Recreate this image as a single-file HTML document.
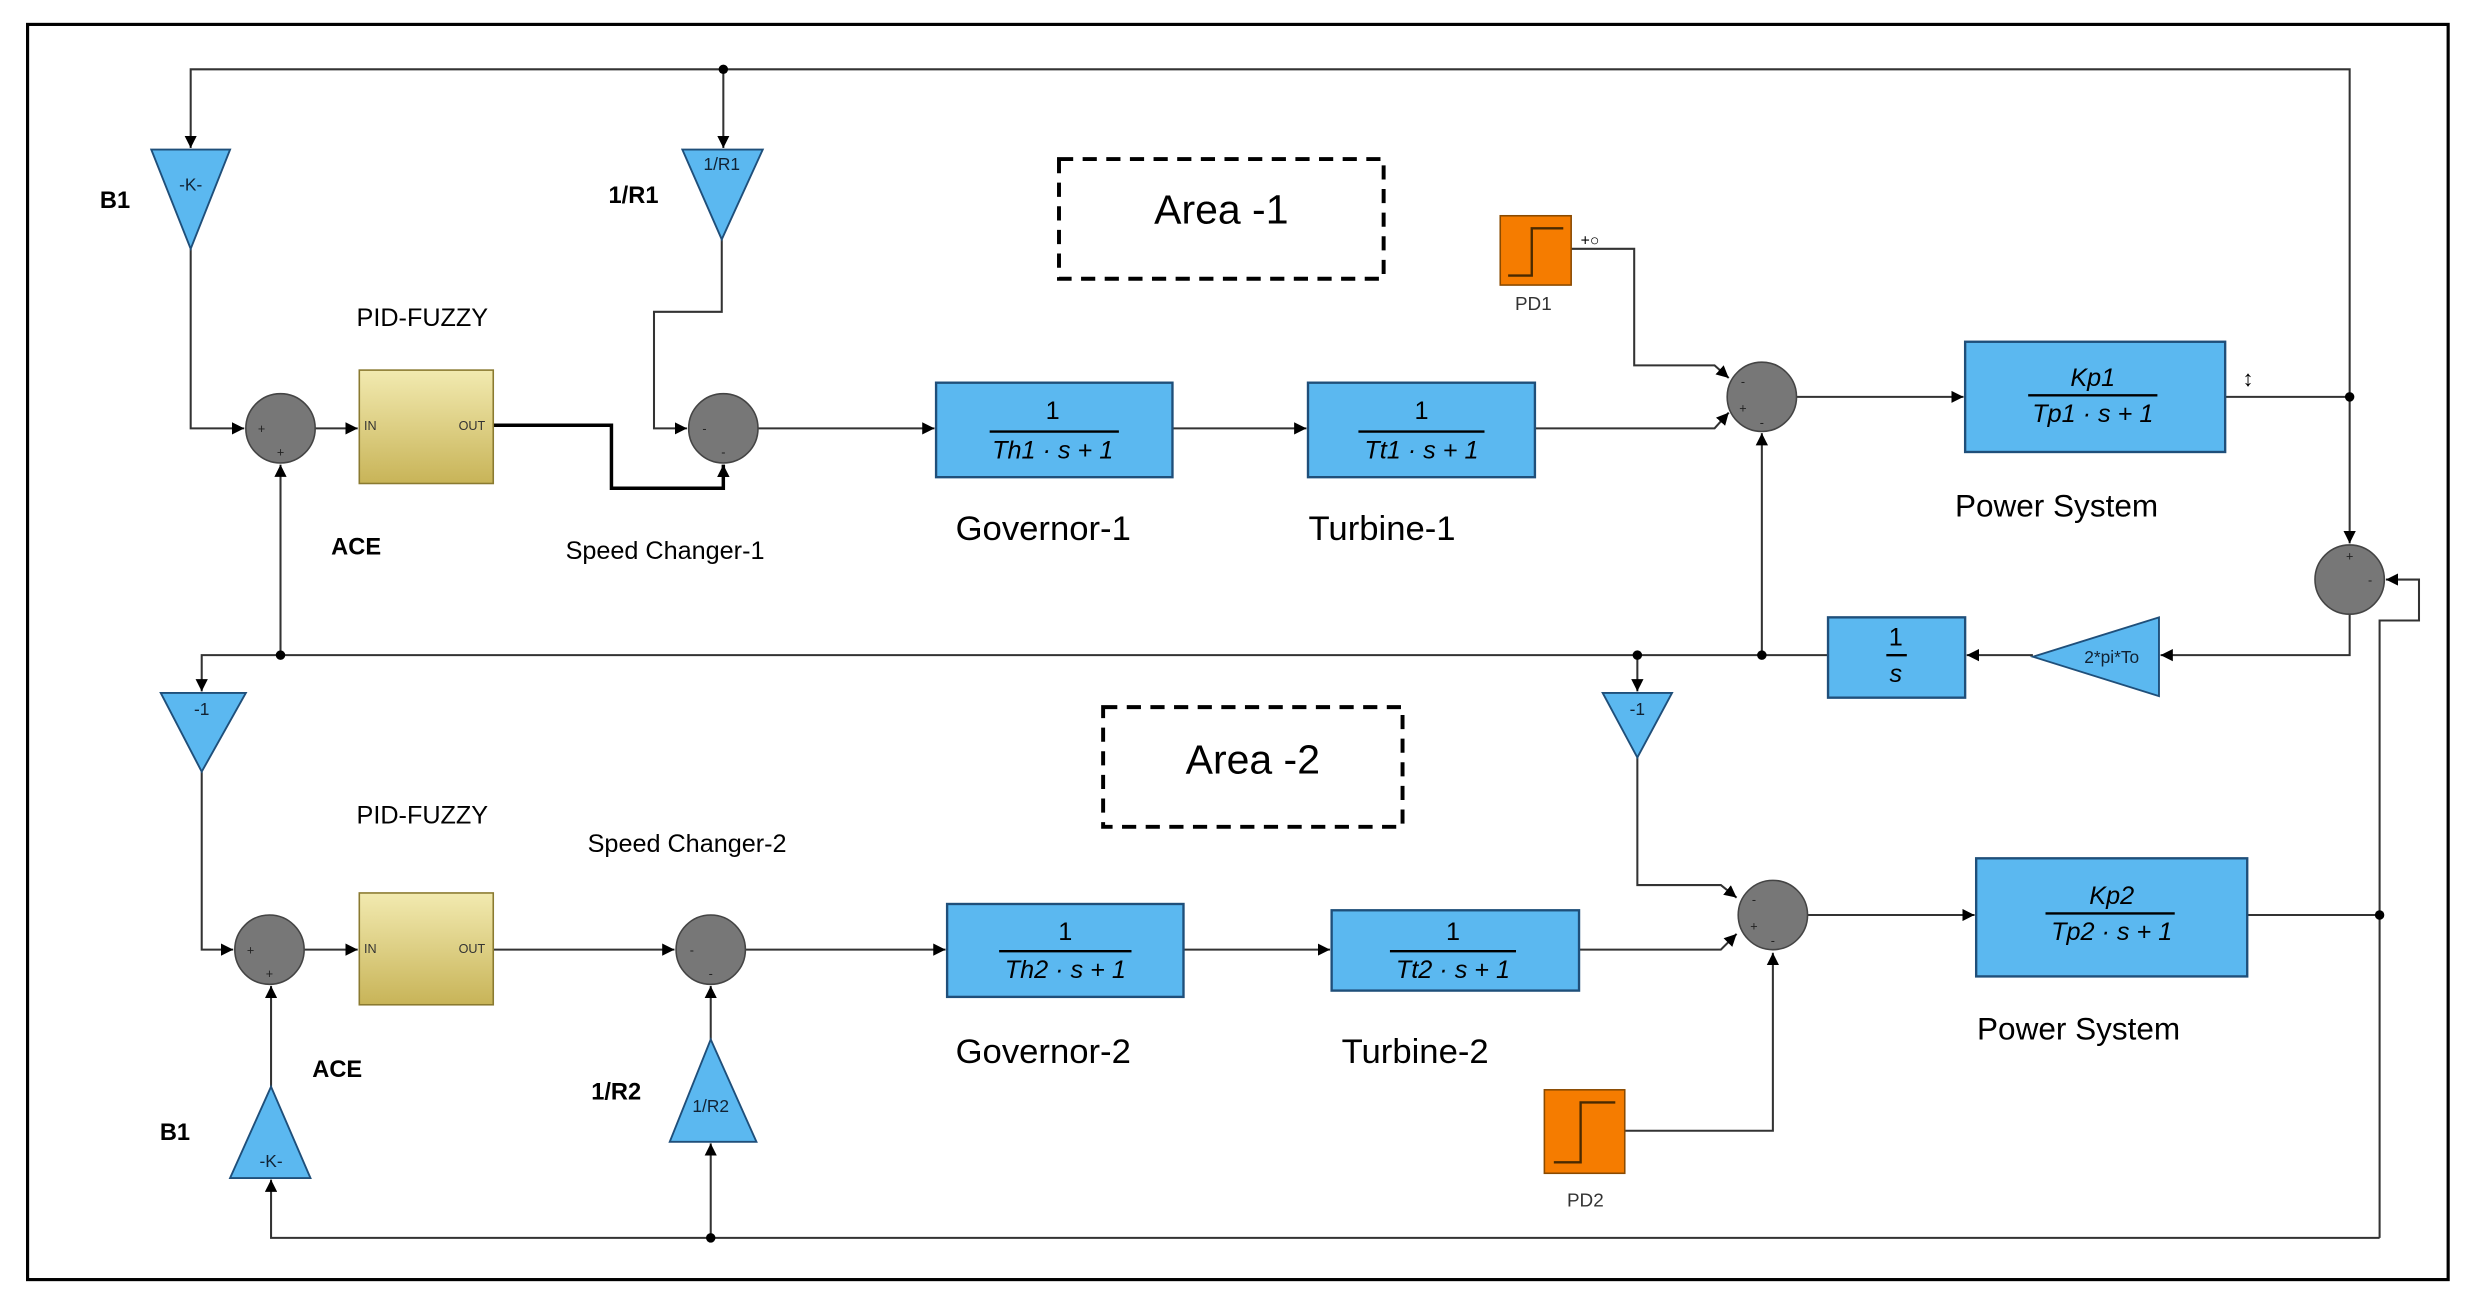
<!DOCTYPE html>
<html><head><meta charset="utf-8"><style>
html,body{margin:0;padding:0;background:#fff;}
svg{display:block;}
text{font-family:"Liberation Sans",sans-serif;}
</style></head><body>
<svg width="2471" height="1304" viewBox="0 0 1568 828" preserveAspectRatio="none" xmlns="http://www.w3.org/2000/svg">
<defs>
<marker id="a" viewBox="0 0 10 10" refX="10" refY="5" markerWidth="6" markerHeight="6" orient="auto"><path d="M0,0L10,5L0,10z" fill="#000"/></marker>
<marker id="b" viewBox="0 0 10 10" refX="10" refY="5" markerWidth="8" markerHeight="8" markerUnits="userSpaceOnUse" orient="auto"><path d="M0,0L10,5L0,10z" fill="#000"/></marker>
<linearGradient id="k" x1="0" y1="0" x2="0" y2="1"><stop offset="0" stop-color="#f2eab0"/><stop offset="1" stop-color="#c8b458"/></linearGradient>
</defs>
<rect x="0" y="0" width="1568" height="828" fill="#fff"/>
<rect x="17.5" y="15.5" width="1536" height="797" fill="none" stroke="#000" stroke-width="2"/>
<g fill="none" stroke="#333" stroke-width="1.3">
<polyline points="1491,252 1491,44 121,44 121,94" marker-end="url(#a)"/>
<polyline points="459,44 459,94" marker-end="url(#a)"/>
<polyline points="121,158 121,272 155,272" marker-end="url(#a)"/>
<polyline points="200,272 227,272" marker-end="url(#a)"/>
<polyline points="458,152 458,198 415,198 415,272 436,272" marker-end="url(#a)"/>
<polyline points="481,272 593,272" marker-end="url(#a)"/>
<polyline points="744,272 829,272" marker-end="url(#a)"/>
<polyline points="974,272 1088,272 1097,262" marker-end="url(#a)"/>
<polyline points="997,158 1037,158 1037,232 1088,232 1097,240" marker-end="url(#a)"/>
<polyline points="1140,252 1246,252" marker-end="url(#a)"/>
<polyline points="1412,252 1491,252 1491,345" marker-end="url(#a)"/>
<polyline points="1491,390 1491,416 1371,416" marker-end="url(#a)"/>
<polyline points="1290,416 1248,416" marker-end="url(#a)"/>
<polyline points="1160,416 128,416 128,439" marker-end="url(#a)"/>
<polyline points="1118,416 1118,275" marker-end="url(#a)"/>
<polyline points="178,416 178,295" marker-end="url(#a)"/>
<polyline points="1039,416 1039,439" marker-end="url(#a)"/>
<polyline points="128,490 128,603 148,603" marker-end="url(#a)"/>
<polyline points="193,603 227,603" marker-end="url(#a)"/>
<polyline points="313,603 428,603" marker-end="url(#a)"/>
<polyline points="473,603 600,603" marker-end="url(#a)"/>
<polyline points="751,603 844,603" marker-end="url(#a)"/>
<polyline points="1002,603 1092,603 1102,593" marker-end="url(#a)"/>
<polyline points="1039,481 1039,562 1092,562 1102,570" marker-end="url(#a)"/>
<polyline points="1031,718 1125,718 1125,605" marker-end="url(#a)"/>
<polyline points="1147,581 1253,581" marker-end="url(#a)"/>
<polyline points="1426,581 1510,581"/>
<polyline points="1510,786 1510,394 1535,394 1535,368 1514,368" marker-end="url(#a)"/>
<polyline points="1510,786 172,786 172,749" marker-end="url(#a)"/>
<polyline points="451,786 451,726" marker-end="url(#a)"/>
<polyline points="172,690 172,626" marker-end="url(#a)"/>
<polyline points="451,660 451,626" marker-end="url(#a)"/>
</g>
<polyline points="313,270 388,270 388,310 459,310 459,295" fill="none" stroke="#000" stroke-width="2.2" marker-end="url(#b)"/>
<g fill="#000">
<circle cx="459" cy="44" r="3"/><circle cx="1491" cy="252" r="3"/><circle cx="1118" cy="416" r="3"/>
<circle cx="1039" cy="416" r="3"/><circle cx="178" cy="416" r="3"/><circle cx="1510" cy="581" r="3"/>
<circle cx="451" cy="786" r="3"/>
</g>
<g fill="#5bb8f0" stroke="#1f4f7a" stroke-width="1.2">
<polygon points="96,95 146,95 121,158"/>
<polygon points="433,95 484,95 458,152"/>
<polygon points="102,440 156,440 128,490"/>
<polygon points="1017,440 1061,440 1039,481"/>
<polygon points="172,690 146,748 197,748"/>
<polygon points="451,660 425,725 480,725"/>
<polygon points="1290,417 1370,392 1370,442"/>
</g>
<g font-size="11" fill="#123" text-anchor="middle">
<text x="121" y="121">-K-</text><text x="458" y="108">1/R1</text><text x="128" y="454">-1</text>
<text x="1039" y="454">-1</text><text x="172" y="741">-K-</text><text x="451" y="706">1/R2</text>
<text x="1340" y="421">2*pi*To</text>
</g>
<g fill="#777" stroke="#444" stroke-width="1">
<circle cx="178" cy="272" r="22"/><circle cx="459" cy="272" r="22"/><circle cx="1118" cy="252" r="22"/>
<circle cx="1491" cy="368" r="22"/><circle cx="171" cy="603" r="22"/><circle cx="451" cy="603" r="22"/>
<circle cx="1125" cy="581" r="22"/>
</g>
<g font-size="8" fill="#222" text-anchor="middle">
<text x="166" y="275">+</text><text x="178" y="290">+</text>
<text x="447" y="275">-</text><text x="459" y="290">-</text>
<text x="1106" y="245">-</text><text x="1106" y="262">+</text><text x="1118" y="271">-</text>
<text x="1491" y="356">+</text><text x="1504" y="371">-</text>
<text x="159" y="606">+</text><text x="171" y="621">+</text>
<text x="439" y="606">-</text><text x="451" y="621">-</text>
<text x="1113" y="574">-</text><text x="1113" y="591">+</text><text x="1125" y="600">-</text>
</g>
<rect x="228" y="235" width="85" height="72" fill="url(#k)" stroke="#8a7a30"/>
<rect x="228" y="567" width="85" height="71" fill="url(#k)" stroke="#8a7a30"/>
<g font-size="8" fill="#333"><text x="231" y="273">IN</text><text x="291" y="273">OUT</text><text x="231" y="605">IN</text><text x="291" y="605">OUT</text></g>
<g fill="#5bb8f0" stroke="#1f4f7a" stroke-width="1.5">
<rect x="594" y="243" width="150" height="60"/><rect x="830" y="243" width="144" height="60"/>
<rect x="1247" y="217" width="165" height="70"/><rect x="1160" y="392" width="87" height="51"/>
<rect x="601" y="574" width="150" height="59"/><rect x="845" y="578" width="157" height="51"/>
<rect x="1254" y="545" width="172" height="75"/>
</g>
<g stroke="#000" stroke-width="1.5">
<line x1="628" y1="274" x2="710" y2="274"/><line x1="862" y1="274" x2="942" y2="274"/>
<line x1="1287" y1="251" x2="1369" y2="251"/><line x1="1197" y1="416" x2="1210" y2="416"/>
<line x1="634" y1="604" x2="718" y2="604"/><line x1="882" y1="604" x2="962" y2="604"/>
<line x1="1298" y1="580" x2="1380" y2="580"/>
</g>
<g font-family="Liberation Serif,serif" font-size="16" fill="#000" text-anchor="middle" font-style="italic">
<text x="668" y="266" font-style="normal">1</text><text x="668" y="291">Th1 · s + 1</text>
<text x="902" y="266" font-style="normal">1</text><text x="902" y="291">Tt1 · s + 1</text>
<text x="1328" y="245">Kp1</text><text x="1328" y="268">Tp1 · s + 1</text>
<text x="1203" y="410" font-style="normal">1</text><text x="1203" y="433">s</text>
<text x="676" y="597" font-style="normal">1</text><text x="676" y="621">Th2 · s + 1</text>
<text x="922" y="597" font-style="normal">1</text><text x="922" y="621">Tt2 · s + 1</text>
<text x="1340" y="574">Kp2</text><text x="1340" y="597">Tp2 · s + 1</text>
</g>
<rect x="952" y="137" width="45" height="44" fill="#f57c00" stroke="#8a4a00"/>
<polyline points="957,175 972,175 972,145 992,145" fill="none" stroke="#4a2a00" stroke-width="1.5"/>
<rect x="980" y="692" width="51" height="53" fill="#f57c00" stroke="#8a4a00"/>
<polyline points="986,738 1003,738 1003,700 1025,700" fill="none" stroke="#4a2a00" stroke-width="1.5"/>
<text x="1003" y="156" font-size="10">+○</text>
<text x="1423" y="245" font-size="14">↕</text>
<rect x="672" y="101" width="206" height="76" fill="none" stroke="#000" stroke-width="2.5" stroke-dasharray="9,6"/>
<rect x="700" y="449" width="190" height="76" fill="none" stroke="#000" stroke-width="2.5" stroke-dasharray="9,6"/>
<g font-size="26" fill="#000" text-anchor="middle"><text x="775" y="142">Area -1</text><text x="795" y="491">Area -2</text></g>
<g font-size="15" font-weight="bold" fill="#000" text-anchor="middle">
<text x="73" y="132">B1</text><text x="402" y="129">1/R1</text><text x="226" y="352">ACE</text>
<text x="214" y="684">ACE</text><text x="391" y="698">1/R2</text><text x="111" y="724">B1</text>
</g>
<g font-size="16" fill="#000" text-anchor="middle">
<text x="268" y="207">PID-FUZZY</text><text x="422" y="355">Speed Changer-1</text>
<text x="268" y="523">PID-FUZZY</text><text x="436" y="541">Speed Changer-2</text>
</g>
<g font-size="22" fill="#000" text-anchor="middle">
<text x="662" y="343">Governor-1</text><text x="877" y="343">Turbine-1</text>
<text x="662" y="675">Governor-2</text><text x="898" y="675">Turbine-2</text>
</g>
<g font-size="20" fill="#000" text-anchor="middle">
<text x="1305" y="328">Power System</text><text x="1319" y="660">Power System</text>
</g>
<g font-size="12" fill="#333" text-anchor="middle"><text x="973" y="197">PD1</text><text x="1006" y="766">PD2</text></g>
</svg>
</body></html>
